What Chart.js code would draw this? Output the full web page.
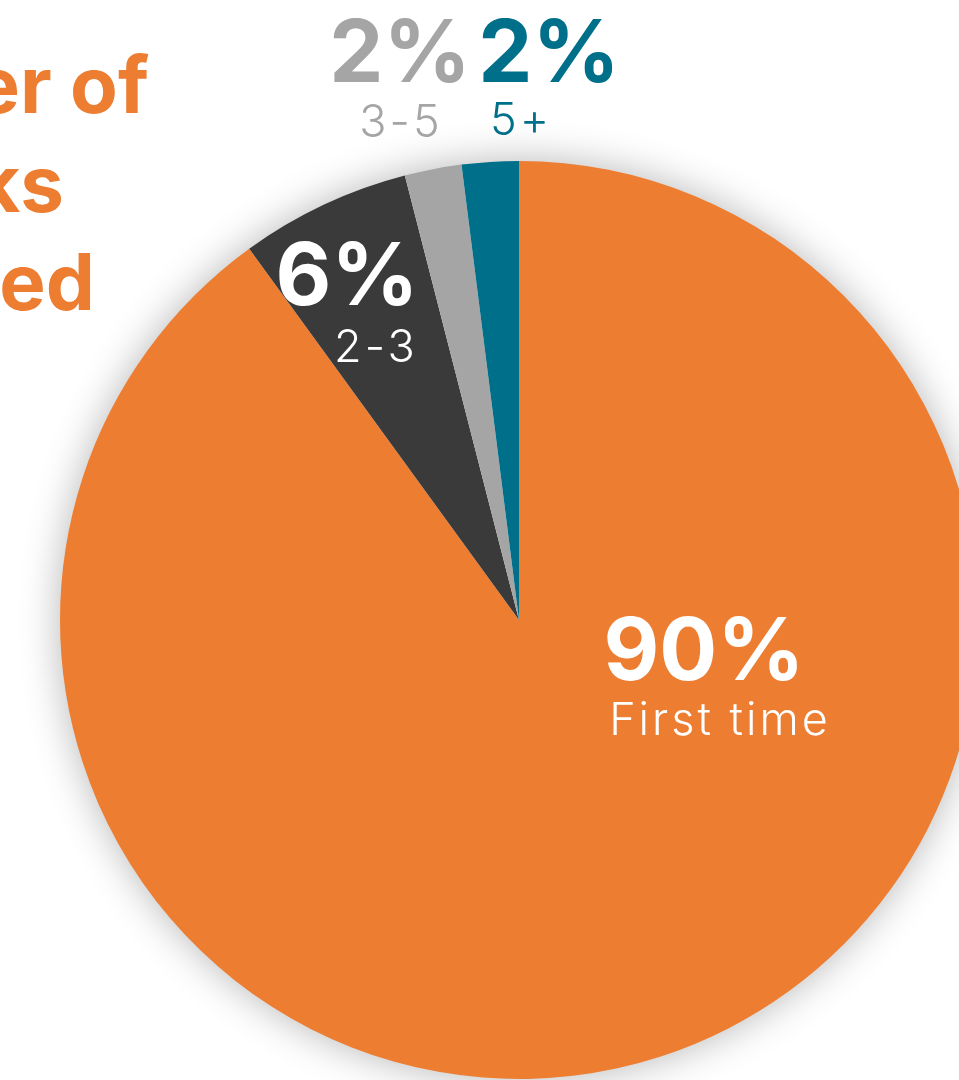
<!DOCTYPE html>
<html>
<head>
<meta charset="utf-8">
<script src="https://cdn.jsdelivr.net/npm/chart.js@4"></script>
<style>
  html, body { margin: 0; padding: 0; background: #fff; overflow: hidden; width: 959px; height: 1080px; }
  #wrap { position: relative; width: 959px; height: 1080px; overflow: hidden; }
  #pie { position: absolute; left: 0; top: 0; }
  .title { position: absolute; color: #ED7D31; font-family: Inter, sans-serif; font-weight: 700;
           font-size: 78px; white-space: nowrap; text-align: right; line-height: 1; }
</style>
</head>
<body>
<div id="wrap">
  <div class="title" style="right: 810px; top: 46px;">Number of</div>
  <div class="title" style="right: 895px; top: 145px;">clicks</div>
  <div class="title" style="right: 864px; top: 243px;">needed</div>
  <canvas id="pie" width="1038" height="1240"></canvas>
</div>
<script>
// pie data
var categories = ['First time', '2-3', '3-5', '5+'];
var shares = [90, 6, 2, 2];
var sliceColors = ['#ED7D31', '#3A3A3A', '#A5A5A5', '#006F8A'];

// label placement relative to pie centre (percent line, category line)
var labelStyle = [
    { color: '#ffffff', pct: [185, 60], cat: [201, 115] },
    { color: '#ffffff', pct: [-172, -315], cat: [-143, -258] },
    { color: '#A5A5A5', pct: [-119, -538], cat: [-118, -483] },
    { color: '#006F8A', pct: [30, -538], cat: [2, -485] }
];

document.addEventListener('DOMContentLoaded', function () {
    var pieShadow = {
        id: 'pieShadow',
        beforeDatasetsDraw: function (chart) {
            var arc = chart.getDatasetMeta(0).data[0];
            if (!arc) return;
            var ctx = chart.ctx;
            ctx.save();
            ctx.shadowColor = 'rgba(0,0,0,0.3)';
            ctx.shadowBlur = 40;
            ctx.fillStyle = '#ffffff';
            ctx.beginPath();
            ctx.arc(arc.x, arc.y, arc.outerRadius - 1, 0, Math.PI * 2);
            ctx.fill();
            ctx.restore();
        }
    };

    var sliceLabels = {
        id: 'sliceLabels',
        afterDatasetsDraw: function (chart) {
            var ctx = chart.ctx;
            var meta = chart.getDatasetMeta(0);
            ctx.save();
            ctx.textAlign = 'center';
            ctx.textBaseline = 'alphabetic';
            meta.data.forEach(function (arc, i) {
                var s = labelStyle[i];
                ctx.fillStyle = s.color;
                ctx.letterSpacing = '0px';
                ctx.font = '700 86px Inter, sans-serif';
                ctx.fillText(shares[i] + '%', arc.x + s.pct[0], arc.y + s.pct[1]);
                ctx.letterSpacing = '3px';
                ctx.font = '300 45px Inter, sans-serif';
                ctx.fillText(categories[i], arc.x + s.cat[0], arc.y + s.cat[1]);
            });
            ctx.restore();
        }
    };

    var ctx = document.getElementById('pie').getContext('2d');
    new Chart(ctx, {
        type: 'pie',
        data: {
            labels: categories,
            datasets: [{
                data: shares,
                backgroundColor: sliceColors,
                borderWidth: 0,
                hoverOffset: 0
            }]
        },
        options: {
            responsive: false,
            animation: false,
            layout: { padding: { top: 161, bottom: 161, left: 60, right: 60 } },
            plugins: {
                legend: { display: false },
                tooltip: { enabled: false }
            }
        },
        plugins: [pieShadow, sliceLabels]
    });
});
</script>
</body>
</html>
